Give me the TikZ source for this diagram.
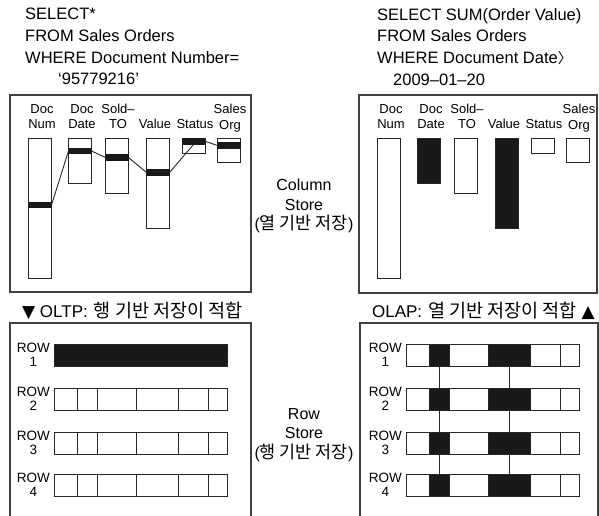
\documentclass[tikz,border=0pt]{standalone}
\usepackage{fontspec}
\setmainfont{Liberation Sans}
\newfontfamily\kr[Scale=1.09]{Noto Sans CJK KR}
\newfontfamily\sym{DejaVu Sans}
\usetikzlibrary{positioning}

\tikzset{
  panel/.style={draw=black!75,line width=1.1pt},
  col/.style={rectangle,draw=black!85,line width=0.9pt,minimum width=23pt,inner sep=0pt,outer sep=0pt,anchor=north},
  band/.style={rectangle,fill=black!90,minimum width=23pt,minimum height=6.5pt,inner sep=0pt,outer sep=0pt},
  dark/.style={fill=black!90},
  link/.style={draw=black!85,line width=0.9pt},
  cell/.style={rectangle,draw=black!85,line width=0.9pt,minimum height=22pt,inner sep=0pt,outer sep=0pt},
  ca/.style={minimum width=23pt},
  cb/.style={minimum width=20pt},
  cc/.style={minimum width=39pt},
  cd/.style={minimum width=42pt},
  ce/.style={minimum width=30pt},
  cf/.style={minimum width=19pt},
  query/.style={align=left,inner sep=0pt,anchor=north west,font=\fontsize{16.5pt}{21.7pt}\selectfont},
  colhead/.style={align=center,inner sep=0pt,font=\fontsize{13pt}{15.5pt}\selectfont},
  rowhead/.style={align=center,inner sep=0pt,font=\fontsize{13.5pt}{14pt}\selectfont},
  midnote/.style={align=center,inner sep=0pt,anchor=north,font=\fontsize{16pt}{19.5pt}\selectfont},
  verdict/.style={inner sep=0pt,font=\fontsize{17pt}{20pt}\selectfont}
}

\begin{document}
\begin{tikzpicture}[x=1pt,y=-1pt]
\useasboundingbox (0,0) rectangle (599,516);

% queries
\node[query] (qoltp) at (25,8) {SELECT*\\FROM Sales Orders\\WHERE Document Number=\\\hspace*{33pt}‘95779216’};
\node[query] (qolap) at (377,8) {SELECT SUM(Order Value)\\FROM Sales Orders\\WHERE Document Date{\fontsize{13pt}{13pt}\kr 〉}\\\hspace*{16pt}2009–01–20};

% column store, OLTP side
\draw[panel] (10,95) rectangle (251,292);
\node[col,minimum height=140pt] (lnum) at (40,138) {};
\node[col,minimum height=45pt] (ldate) at (80,138) {};
\node[col,minimum height=55pt] (lsold) at (117,138) {};
\node[col,minimum height=90pt] (lval) at (158,138) {};
\node[col,minimum height=15pt] (lstat) at (193.5,138) {};
\node[col,minimum height=24pt] (lorg) at (229,138) {};
\node[colhead,above=9pt of lnum,xshift=2pt] (hlnum) {Doc\\Num};
\node[colhead,above=9pt of ldate,xshift=2pt] (hldate) {Doc\\Date};
\node[colhead,above=9pt of lsold,xshift=1pt] (hlsold) {Sold–\\TO};
\node[colhead,above=9pt of lval,xshift=-3pt] (hlval) {Value};
\node[colhead,above=9pt of lstat,xshift=1.5pt] (hlstat) {Status};
\node[colhead,above=6pt of lorg,xshift=1pt] (hlorg) {Sales\\Org};
\node[band] (lnumk) at (40,205) {};
\node[band] (ldatek) at (80,151) {};
\node[band] (lsoldk) at (117,157.5) {};
\node[band] (lvalk) at (158,172.5) {};
\node[band] (lstatk) at (193.5,141.25) {};
\node[band] (lorgk) at (229,145.5) {};
\draw[link] (lnumk.east) -- (ldatek.west);
\draw[link] (ldatek.east) -- (lsoldk.west);
\draw[link] (lsoldk.east) -- (lvalk.west);
\draw[link] (lvalk.east) -- (lstatk.south);
\draw[link] (lstatk.east) -- (lorgk.west);

% column store, OLAP side
\draw[panel] (359,95) rectangle (597,293);
\node[col,minimum height=140pt] (rnum) at (389,138) {};
\node[col,dark,minimum height=45pt] (rdate) at (429,138) {};
\node[col,minimum height=55pt] (rsold) at (466,138) {};
\node[col,dark,minimum height=90pt] (rval) at (507,138) {};
\node[col,minimum height=15pt] (rstat) at (542.5,138) {};
\node[col,minimum height=24pt] (rorg) at (578,138) {};
\node[colhead,above=9pt of rnum,xshift=2pt] (hrnum) {Doc\\Num};
\node[colhead,above=9pt of rdate,xshift=2pt] (hrdate) {Doc\\Date};
\node[colhead,above=9pt of rsold,xshift=1pt] (hrsold) {Sold–\\TO};
\node[colhead,above=9pt of rval,xshift=-3pt] (hrval) {Value};
\node[colhead,above=9pt of rstat,xshift=1.5pt] (hrstat) {Status};
\node[colhead,above=6pt of rorg,xshift=1pt] (hrorg) {Sales\\Org};

\node[midnote] (colstore) at (304,179) {Column\\Store\\({\kr 열 기반 저장})};

\node[verdict,anchor=base west] (oltp) at (22,317) {{\sym ▼} OLTP:\hspace{6pt}{\kr 행 기반 저장이 적합}};
\node[verdict,anchor=base east] (olap) at (595,317) {OLAP:\hspace{6pt}{\kr 열 기반 저장이 적합} {\sym ▲}};

% row store, OLTP side
\draw[panel] (10,518) -- (10,323) -- (251,323) -- (251,518);
\node[cell,dark,minimum width=173pt,anchor=north west] (la1) at (54,344) {};
\node[cell,ca,anchor=north west] (la2) at (54,388) {};
\node[cell,cb,right=0pt of la2] (lb2) {};
\node[cell,cc,right=0pt of lb2] (lc2) {};
\node[cell,cd,right=0pt of lc2] (ld2) {};
\node[cell,ce,right=0pt of ld2] (le2) {};
\node[cell,cf,right=0pt of le2] (lf2) {};
\node[cell,ca,anchor=north west] (la3) at (54,432) {};
\node[cell,cb,right=0pt of la3] (lb3) {};
\node[cell,cc,right=0pt of lb3] (lc3) {};
\node[cell,cd,right=0pt of lc3] (ld3) {};
\node[cell,ce,right=0pt of ld3] (le3) {};
\node[cell,cf,right=0pt of le3] (lf3) {};
\node[cell,ca,anchor=north west] (la4) at (54,474) {};
\node[cell,cb,right=0pt of la4] (lb4) {};
\node[cell,cc,right=0pt of lb4] (lc4) {};
\node[cell,cd,right=0pt of lc4] (ld4) {};
\node[cell,ce,right=0pt of ld4] (le4) {};
\node[cell,cf,right=0pt of le4] (lf4) {};
\node[rowhead,left=4pt of la1] (lrow1) {ROW\\1};
\node[rowhead,left=4pt of la2] (lrow2) {ROW\\2};
\node[rowhead,left=4pt of la3] (lrow3) {ROW\\3};
\node[rowhead,left=4pt of la4] (lrow4) {ROW\\4};

% row store, OLAP side
\draw[panel] (360,518) -- (360,323) -- (598,323) -- (598,518);
\node[cell,ca,anchor=north west] (ra1) at (406,344) {};
\node[cell,cb,dark,right=0pt of ra1] (rb1) {};
\node[cell,cc,right=0pt of rb1] (rc1) {};
\node[cell,cd,dark,right=0pt of rc1] (rd1) {};
\node[cell,ce,right=0pt of rd1] (re1) {};
\node[cell,cf,right=0pt of re1] (rf1) {};
\node[cell,ca,anchor=north west] (ra2) at (406,388) {};
\node[cell,cb,dark,right=0pt of ra2] (rb2) {};
\node[cell,cc,right=0pt of rb2] (rc2) {};
\node[cell,cd,dark,right=0pt of rc2] (rd2) {};
\node[cell,ce,right=0pt of rd2] (re2) {};
\node[cell,cf,right=0pt of re2] (rf2) {};
\node[cell,ca,anchor=north west] (ra3) at (406,432) {};
\node[cell,cb,dark,right=0pt of ra3] (rb3) {};
\node[cell,cc,right=0pt of rb3] (rc3) {};
\node[cell,cd,dark,right=0pt of rc3] (rd3) {};
\node[cell,ce,right=0pt of rd3] (re3) {};
\node[cell,cf,right=0pt of re3] (rf3) {};
\node[cell,ca,anchor=north west] (ra4) at (406,474) {};
\node[cell,cb,dark,right=0pt of ra4] (rb4) {};
\node[cell,cc,right=0pt of rb4] (rc4) {};
\node[cell,cd,dark,right=0pt of rc4] (rd4) {};
\node[cell,ce,right=0pt of rd4] (re4) {};
\node[cell,cf,right=0pt of re4] (rf4) {};
\node[rowhead,left=4pt of ra1] (rrow1) {ROW\\1};
\node[rowhead,left=4pt of ra2] (rrow2) {ROW\\2};
\node[rowhead,left=4pt of ra3] (rrow3) {ROW\\3};
\node[rowhead,left=4pt of ra4] (rrow4) {ROW\\4};
\draw[link] (rb1) -- (rb2);
\draw[link] (rb2) -- (rb3);
\draw[link] (rb3) -- (rb4);
\draw[link] (rd1) -- (rd2);
\draw[link] (rd2) -- (rd3);
\draw[link] (rd3) -- (rd4);

\node[midnote] (rowstore) at (304,408) {Row\\Store\\({\kr 행 기반 저장})};
\end{tikzpicture}
\end{document}
